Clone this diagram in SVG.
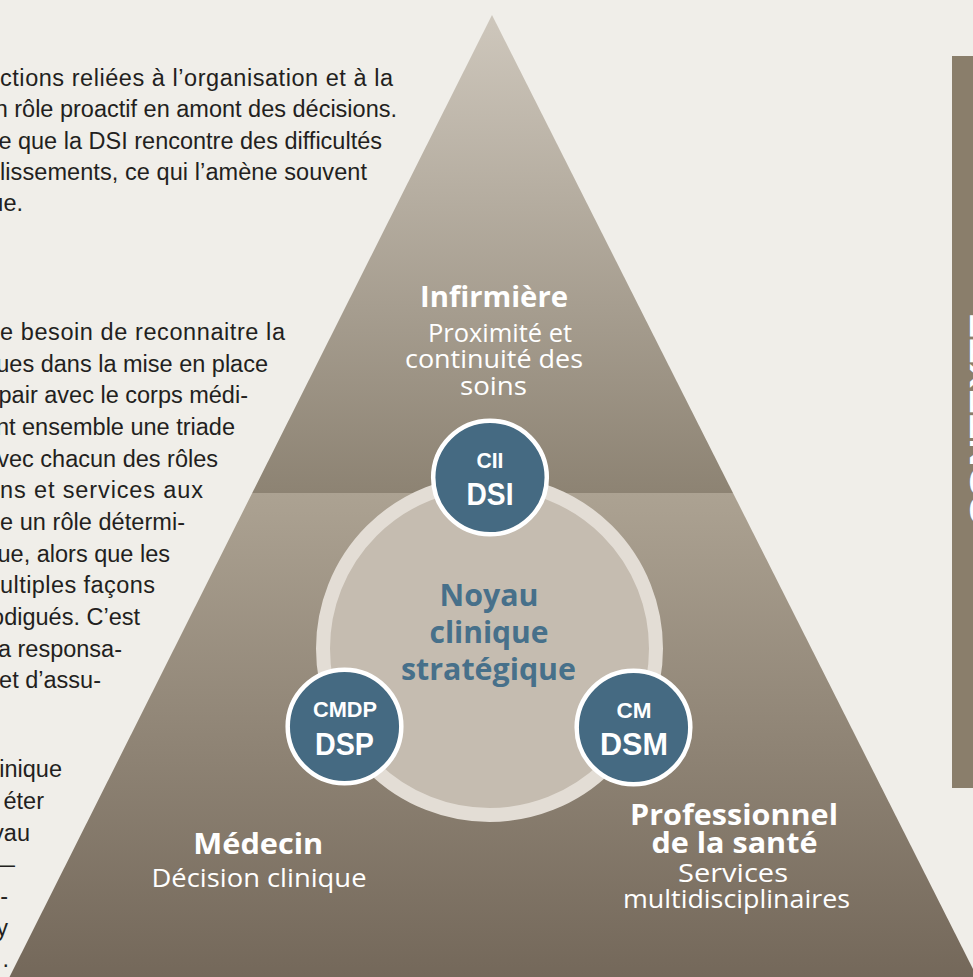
<svg xmlns="http://www.w3.org/2000/svg" width="973" height="977" viewBox="0 0 973 977">
  <style>
    .body { font-family: 'Liberation Sans', Arial, sans-serif; font-size: 23.5px; fill: #231f20; }
    .body .r { text-anchor: end; }
    .lbl-b { font-family: 'Open Sans', 'Liberation Sans', Arial, sans-serif; font-size: 28px; font-weight: bold; fill: #ffffff; text-anchor: middle; }
    .lbl-r { font-family: 'Open Sans', 'Liberation Sans', Arial, sans-serif; font-size: 26px; fill: #ffffff; text-anchor: middle; }
    .core { font-family: 'Open Sans', 'Liberation Sans', Arial, sans-serif; font-size: 30px; font-weight: bold; fill: #47708a; text-anchor: middle; }
    .ab-s { font-family: 'Liberation Sans', Arial, sans-serif; font-size: 22px; font-weight: bold; fill: #ffffff; text-anchor: middle; }
    .ab-l { font-family: 'Liberation Sans', Arial, sans-serif; font-size: 32px; font-weight: bold; fill: #ffffff; text-anchor: middle; }
    .role { fill: #456a82; stroke: #ffffff; stroke-width: 4.5; }
    .tab { font-family: 'Liberation Sans', Arial, sans-serif; font-size: 30px; font-weight: bold; fill: #ffffff; text-anchor: middle; }
  </style>
  <defs>
    <linearGradient id="gTop" gradientUnits="userSpaceOnUse" x1="0" y1="15" x2="0" y2="493">
      <stop offset="0" stop-color="#cec7bc"/>
      <stop offset="1" stop-color="#8d8373"/>
    </linearGradient>
    <linearGradient id="gBottom" gradientUnits="userSpaceOnUse" x1="0" y1="493" x2="0" y2="977">
      <stop offset="0" stop-color="#aca292"/>
      <stop offset="1" stop-color="#74685a"/>
    </linearGradient>
  </defs>

  <!-- page -->
  <rect x="0" y="0" width="973" height="977" fill="#f0eee9"/>

  <!-- running body text, left column (lines run off the left edge) -->
  <g id="body-text" class="body">
    <text x="0" y="86" textLength="393" lengthAdjust="spacing">ctions reliées à l’organisation et à la</text>
    <text class="r" x="397" y="117.3">n rôle proactif en amont des décisions.</text>
    <text class="r" x="382" y="148.5">e que la DSI rencontre des difficultés</text>
    <text x="0" y="179.7" textLength="367" lengthAdjust="spacing">lissements, ce qui l’amène souvent</text>
    <text class="r" x="23" y="211">ue.</text>

    <text x="0" y="340" textLength="285" lengthAdjust="spacing">e besoin de reconnaitre la</text>
    <text class="r" x="268" y="371.7">ues dans la mise en place</text>
    <text class="r" x="248" y="403.3">pair avec le corps médi-</text>
    <text class="r" x="235" y="435">nt ensemble une triade</text>
    <text class="r" x="218" y="466.7">vec chacun des rôles</text>
    <text x="0" y="498.3" textLength="203" lengthAdjust="spacing">ns et services aux</text>
    <text x="0" y="530" textLength="185" lengthAdjust="spacing">e un rôle détermi-</text>
    <text class="r" x="170" y="561.7">ue, alors que les</text>
    <text x="0" y="593.3" textLength="155" lengthAdjust="spacing">ultiples façons</text>
    <text class="r" x="140" y="625">odigués. C’est</text>
    <text class="r" x="122" y="656.7">a responsa-</text>
    <text class="r" x="101" y="688.3">et d’assu-</text>

    <text class="r" x="62" y="777.3">inique</text>
    <text class="r" x="44" y="809">éter</text>
    <text class="r" x="30" y="840.7">vau</text>
    <text class="r" x="15" y="872.3">—</text>
    <text class="r" x="8" y="904">-</text>
    <text class="r" x="8" y="935.7">y</text>
    <text class="r" x="9" y="967.3">.</text>
  </g>

  <!-- side tab -->
  <g id="side-tab">
    <rect x="952" y="56" width="40" height="732" fill="#8a7e6b"/>
    <text class="tab" transform="translate(989.5 419) rotate(-90)" textLength="212" lengthAdjust="spacingAndGlyphs">CONTEXTE</text>
  </g>

  <!-- pyramid -->
  <g id="pyramid">
    <polygon id="tier-top" points="492,15 252.2,493 733,493" fill="url(#gTop)"/>
    <polygon id="tier-base" points="252.2,493 733,493 977,977 9.5,977" fill="url(#gBottom)"/>
  </g>

  <!-- central core -->
  <g id="core">
    <circle cx="489.5" cy="648.5" r="166.5" fill="#c5bcb0" stroke="#e3ddd5" stroke-width="14"/>
    <text class="core" x="489" y="605.7" textLength="99" lengthAdjust="spacingAndGlyphs">Noyau</text>
    <text class="core" x="489" y="643.3" textLength="119" lengthAdjust="spacingAndGlyphs">clinique</text>
    <text class="core" x="488.5" y="680" textLength="175" lengthAdjust="spacingAndGlyphs">stratégique</text>
  </g>

  <!-- role nodes -->
  <g id="node-dsi">
    <circle class="role" cx="490" cy="477.5" r="56.8"/>
    <text class="ab-s" x="490" y="468.3" textLength="27" lengthAdjust="spacingAndGlyphs">CII</text>
    <text class="ab-l" x="490" y="505" textLength="47" lengthAdjust="spacingAndGlyphs">DSI</text>
  </g>
  <g id="node-dsp">
    <circle class="role" cx="344.5" cy="726.5" r="56.8"/>
    <text class="ab-s" x="345" y="717.3" textLength="64" lengthAdjust="spacingAndGlyphs">CMDP</text>
    <text class="ab-l" x="344.5" y="755" textLength="59" lengthAdjust="spacingAndGlyphs">DSP</text>
  </g>
  <g id="node-dsm">
    <circle class="role" cx="633.5" cy="727.5" r="56.8"/>
    <text class="ab-s" x="634" y="717.7" textLength="35" lengthAdjust="spacingAndGlyphs">CM</text>
    <text class="ab-l" x="634" y="755" textLength="68" lengthAdjust="spacingAndGlyphs">DSM</text>
  </g>

  <!-- tier labels -->
  <g id="label-infirmiere">
    <text class="lbl-b" x="494" y="307" textLength="148" lengthAdjust="spacingAndGlyphs">Infirmière</text>
    <text class="lbl-r" x="500" y="341.5" textLength="144" lengthAdjust="spacingAndGlyphs">Proximité et</text>
    <text class="lbl-r" x="494" y="368" textLength="178" lengthAdjust="spacingAndGlyphs">continuité des</text>
    <text class="lbl-r" x="493.5" y="395" textLength="67" lengthAdjust="spacingAndGlyphs">soins</text>
  </g>
  <g id="label-medecin">
    <text class="lbl-b" x="258.3" y="854" textLength="130" lengthAdjust="spacingAndGlyphs">Médecin</text>
    <text class="lbl-r" x="259" y="887" textLength="215" lengthAdjust="spacingAndGlyphs">Décision clinique</text>
  </g>
  <g id="label-professionnel">
    <text class="lbl-b" x="734" y="825" textLength="208" lengthAdjust="spacingAndGlyphs">Professionnel</text>
    <text class="lbl-b" x="734.5" y="853.3" textLength="166" lengthAdjust="spacingAndGlyphs">de la santé</text>
    <text class="lbl-r" x="733" y="881.7" textLength="110" lengthAdjust="spacingAndGlyphs">Services</text>
    <text class="lbl-r" x="736.5" y="908.3" textLength="227" lengthAdjust="spacingAndGlyphs">multidisciplinaires</text>
  </g>

  <!-- connectors: none drawn in this figure -->
  <g id="connectors"/>
</svg>
